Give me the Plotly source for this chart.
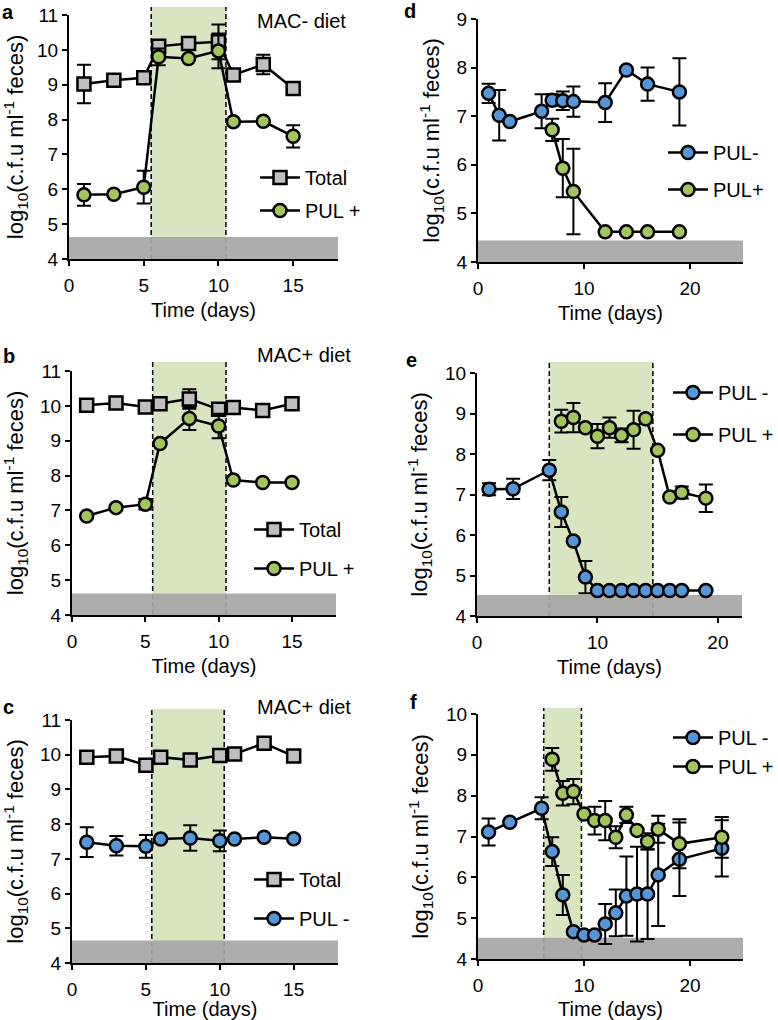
import plotly.graph_objects as go

# ---------------- data ----------------
# panel a (MAC- diet)
a_days = [1, 3, 5, 6, 8, 10, 11, 13, 15]
a_total = [9.02, 9.13, 9.20, 10.10, 10.18, 10.23, 9.28, 9.58, 8.89]
a_total_err = [0.55, 0, 0, 0, 0, 0.50, 0, 0.28, 0]
a_pulp = [5.84, 5.86, 6.06, 9.80, 9.75, 9.97, 7.94, 7.95, 7.52]
a_pulp_err = [0.31, 0, 0.47, 0.24, 0, 0.50, 0, 0, 0.32]

# panel b (MAC+ diet)
b_days = [1, 3, 5, 6, 8, 10, 11, 13, 15]
b_total = [10.02, 10.08, 9.97, 10.06, 10.20, 9.90, 9.95, 9.87, 10.06]
b_total_err = [0, 0, 0, 0, 0.28, 0, 0, 0, 0.05]
b_pulp = [6.84, 7.08, 7.18, 8.92, 9.64, 9.42, 7.87, 7.80, 7.80]
b_pulp_err = [0, 0, 0.15, 0, 0.33, 0.35, 0, 0, 0]

# panel c (MAC+ diet)
c_days = [1, 3, 5, 6, 8, 10, 11, 13, 15]
c_total = [9.93, 9.96, 9.70, 9.93, 9.85, 9.98, 10.02, 10.33, 9.96]
c_pulm = [7.48, 7.38, 7.36, 7.57, 7.60, 7.52, 7.57, 7.62, 7.58]
c_pulm_err = [0.43, 0.28, 0.33, 0, 0.37, 0.30, 0, 0, 0]

# panel d
d_days_minus = [1, 2, 3, 6, 7, 8, 9, 12, 14, 16, 19]
d_pulm = [7.47, 7.02, 6.89, 7.10, 7.33, 7.32, 7.30, 7.28, 7.95, 7.66, 7.50]
d_pulm_err = [0.20, 0.52, 0, 0.35, 0.12, 0.19, 0.31, 0.40, 0, 0.34, 0.69]
d_days_plus = [7, 8, 9, 12, 14, 16, 19]
d_pulp = [6.72, 5.93, 5.45, 4.62, 4.62, 4.62, 4.62]
d_pulp_err = [0.23, 0.60, 0.88, 0, 0, 0, 0]

# panel e
e_days_minus = [1, 3, 6, 7, 8, 9, 10, 11, 12, 13, 14, 15, 16, 17, 19]
e_pulm = [7.13, 7.14, 7.60, 6.57, 5.85, 4.96, 4.63, 4.63, 4.63, 4.63, 4.63, 4.63, 4.63, 4.63, 4.63]
e_pulm_err = [0.15, 0.25, 0.25, 0.37, 0, 0.40, 0, 0, 0, 0, 0, 0, 0, 0, 0]
e_days_plus = [7, 8, 9, 10, 11, 12, 13, 14, 15, 16, 17, 19]
e_pulp = [8.81, 8.90, 8.65, 8.44, 8.65, 8.46, 8.60, 8.87, 8.09, 6.94, 7.05, 6.91]
e_pulp_err = [0.28, 0.36, 0, 0.30, 0.25, 0.17, 0.47, 0, 0, 0, 0.15, 0.34]

# panel f
f_days_minus = [1, 3, 6, 7, 8, 9, 10, 11, 12, 13, 14, 15, 16, 17, 19, 23]
f_pulm = [7.11, 7.35, 7.69, 6.63, 5.57, 4.67, 4.59, 4.59, 4.86, 5.13, 5.54, 5.59, 5.59, 6.06, 6.44, 6.71]
f_pulm_err = [0.33, 0, 0.27, 0.35, 0.49, 0, 0, 0, 0.49, 0.57, 0.97, 1.16, 1.10, 1.25, 0.90, 0.69]
f_days_plus = [7, 8, 9, 10, 11, 12, 13, 14, 15, 16, 17, 19, 23]
f_pulp = [8.89, 8.06, 8.10, 7.55, 7.39, 7.39, 6.98, 7.53, 7.15, 6.88, 7.18, 6.82, 6.98]
f_pulp_err = [0.28, 0.30, 0.31, 0, 0.34, 0.48, 0.27, 0.20, 0, 0.20, 0.33, 0.60, 0.50]

# treatment windows (days) and detection limits (log10)
windows = {"a": (5.5, 10.5), "b": (5.5, 10.5), "c": (5.4, 10.3), "e": (6.0, 14.6), "f": (6.2, 9.76)}
det_limit = {"a": 4.63, "b": 4.62, "c": 4.65, "d": 4.44, "e": 4.52, "f": 4.52}
x_max = {"a": 18, "b": 18, "c": 18, "d": 25, "e": 22, "f": 25}
y_max = {"a": 11, "b": 11, "c": 11, "d": 9, "e": 10, "f": 10}
x_dtick = {"a": 5, "b": 5, "c": 5, "d": 10, "e": 10, "f": 10}

# ---------------- style ----------------
FONT = "Liberation Sans, Arial, sans-serif"
GREY_M = "#bfbfbf"
GREEN_M = "#a2c55c"
BLUE_M = "#5596d8"
SHADE = "#d9e5c0"
BAND = "#a6a6a6"

W, H = 778, 1020
# pixel boxes of the plot areas: (left, right, top, bottom)
boxes = {
    "a": (69, 338, 15, 259),
    "b": (72, 336, 371, 615),
    "c": (72, 338, 720, 963),
    "d": (478, 743, 19, 262),
    "e": (477, 742, 373, 616),
    "f": (478, 743, 714, 959),
}
shade_top_px = {"a": 7, "b": 362, "c": 709, "e": 362, "f": 708}
axis_idx = {"a": 1, "b": 2, "c": 3, "d": 4, "e": 5, "f": 6}


def sfx(i):
    return "" if i == 1 else str(i)


fig = go.Figure()


def add_series(p, x, y, err, name, symbol, color, legend, group=True):
    i = axis_idx[p]
    kw = {}
    if err is not None:
        kw["error_y"] = dict(type="data", array=err, visible=True, color="black", thickness=2, width=7)
    if group:
        kw["legendgroup"] = p + name
    fig.add_trace(go.Scatter(
        x=x, y=y, name=name, mode="lines+markers",
        xaxis="x" + sfx(i), yaxis="y" + sfx(i),
        line=dict(color="black", width=2.5),
        marker=dict(symbol=symbol, size=13, color=color, line=dict(color="black", width=2.5)),
        legend=legend, showlegend=True, **kw,
    ))


add_series("a", a_days, a_total, a_total_err, "Total", "square", GREY_M, "legend")
add_series("a", a_days, a_pulp, a_pulp_err, "PUL +", "circle", GREEN_M, "legend")
add_series("b", b_days, b_total, b_total_err, "Total", "square", GREY_M, "legend2")
add_series("b", b_days, b_pulp, b_pulp_err, "PUL +", "circle", GREEN_M, "legend2")
add_series("c", c_days, c_total, None, "Total", "square", GREY_M, "legend3")
add_series("c", c_days, c_pulm, c_pulm_err, "PUL -", "circle", BLUE_M, "legend3")
add_series("d", d_days_minus, d_pulm, d_pulm_err, "PUL-", "circle", BLUE_M, "legend4")
add_series("d", d_days_plus, d_pulp, d_pulp_err, "PUL+", "circle", GREEN_M, "legend4")
add_series("e", e_days_minus, e_pulm, e_pulm_err, "PUL -", "circle", BLUE_M, "legend5")
add_series("e", e_days_plus, e_pulp, e_pulp_err, "PUL +", "circle", GREEN_M, "legend5")
add_series("f", f_days_minus, f_pulm, f_pulm_err, "PUL -", "circle", BLUE_M, "legend6", group=False)
add_series("f", f_days_plus, f_pulp, f_pulp_err, "PUL +", "circle", GREEN_M, "legend6", group=False)

layout = dict(
    width=W, height=H, margin=dict(l=0, r=0, t=0, b=0, autoexpand=False),
    paper_bgcolor="white", plot_bgcolor="rgba(0,0,0,0)",
    font=dict(family=FONT, size=19, color="black"),
    shapes=[], annotations=[],
)

ytitle = "log<sub>10</sub>(c.f.u ml<sup>-1</sup> feces)"
for p, (l, r, t, b) in boxes.items():
    i = axis_idx[p]
    s = sfx(i)
    xd = [l / W, r / W]
    yd = [1 - b / H, 1 - t / H]
    layout["xaxis" + s] = dict(
        domain=xd, anchor="y" + s, range=[0, x_max[p]], tickmode="linear", tick0=0, dtick=x_dtick[p],
        showline=True, linecolor="black", linewidth=2, ticks="outside", ticklen=5, tickwidth=2,
        tickcolor="black", showgrid=False, zeroline=False, tickfont=dict(size=19), ticklabelstandoff=3,
        title=dict(text="Time (days)", font=dict(size=20), standoff=8),
    )
    layout["yaxis" + s] = dict(
        domain=yd, anchor="x" + s, range=[4, y_max[p]], tickmode="linear", tick0=4, dtick=1,
        showline=True, linecolor="black", linewidth=2, ticks="outside", ticklen=5, tickwidth=2,
        tickcolor="black", showgrid=False, zeroline=False, tickfont=dict(size=19),
        title=dict(text=ytitle, font=dict(size=22), standoff=11),
    )
    xr, yr = "x" + s, "y" + s
    if p in windows:
        x0, x1 = windows[p]
        top = (b - shade_top_px[p]) / (b - t)
        layout["shapes"].append(dict(type="rect", xref=xr, yref=yr + " domain", x0=x0, x1=x1, y0=0, y1=top,
                                     fillcolor=SHADE, line=dict(width=0), layer="below"))
        for xv in (x0, x1):
            layout["shapes"].append(dict(type="line", xref=xr, yref=yr + " domain", x0=xv, x1=xv, y0=0, y1=top,
                                         line=dict(color="black", width=1.5, dash="5px,3px"), layer="below"))
    layout["shapes"].append(dict(type="rect", xref=xr, yref=yr, x0=0, x1=x_max[p], y0=4, y1=det_limit[p],
                                 fillcolor=BAND, opacity=0.92, line=dict(width=0), layer="below"))

# panel letters and diet labels
letters = {"a": (0, 12), "b": (1, 356), "c": (1, 707), "d": (402, 11), "e": (404, 360), "f": (408, 702)}
for k, (px, py) in letters.items():
    layout["annotations"].append(dict(text=f"<b>{k}</b>", x=px / W, y=1 - py / H, xref="paper", yref="paper",
                                      xanchor="left", yanchor="middle", showarrow=False, font=dict(size=20)))
diet = {"a": ("MAC- diet", 255, 21), "b": ("MAC+ diet", 255, 355), "c": ("MAC+ diet", 255, 707)}
for k, (txt, px, py) in diet.items():
    layout["annotations"].append(dict(text=txt, x=px / W, y=1 - py / H, xref="paper", yref="paper",
                                      xanchor="left", yanchor="middle", showarrow=False, font=dict(size=20)))

# legends: (left px, top px, gap between items)
leg_pos = {"legend": (255, 158, 4), "legend2": (249, 510, 10), "legend3": (249, 860, 10),
           "legend4": (663, 133, 8), "legend5": (668, 373, 13), "legend6": (668, 718, 0)}
for name, (px, py, gap) in leg_pos.items():
    layout[name] = dict(x=px / W, y=1 - py / H, xref="paper", yref="paper", xanchor="left", yanchor="top",
                        bgcolor="rgba(0,0,0,0)", font=dict(size=20), tracegroupgap=gap, itemwidth=40)

fig.update_layout(**layout)
fig.write_html("out.html", config={"displayModeBar": False},
               post_script="document.body.style.margin='0';")
